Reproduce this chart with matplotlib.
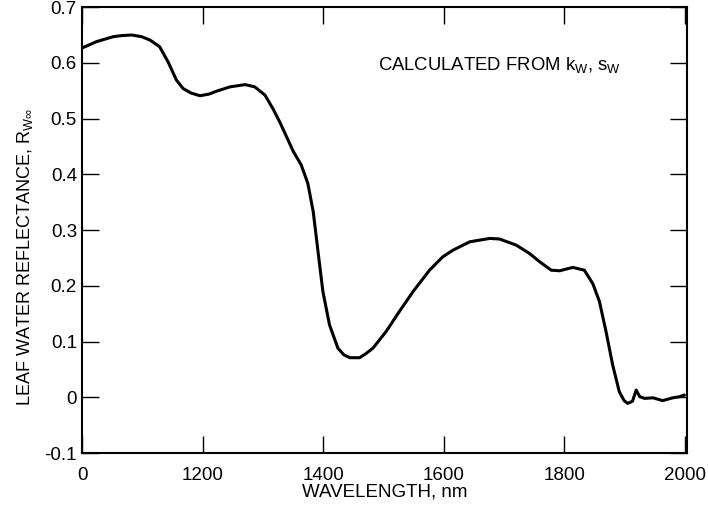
import matplotlib
matplotlib.use("Agg")
import matplotlib.pyplot as plt
from matplotlib.ticker import FixedLocator, FixedFormatter

wavelength = [1000, 1023, 1051, 1065, 1082, 1098, 1112, 1128, 1142, 1156,
              1167, 1180, 1195, 1210, 1222, 1245, 1270, 1286, 1303, 1316,
              1327, 1350, 1363, 1374, 1383, 1391, 1399, 1410, 1424, 1434,
              1444, 1460, 1470, 1482, 1504, 1526, 1549, 1576, 1598, 1615,
              1643, 1676, 1692, 1720, 1742, 1759, 1778, 1792, 1814, 1833,
              1847, 1858, 1869, 1880, 1891, 1899, 1905, 1913, 1919, 1925,
              1933, 1947, 1963, 1980, 1991, 1999]
reflectance = [0.627, 0.638, 0.647, 0.649, 0.650, 0.647, 0.641, 0.629, 0.602, 0.569,
               0.554, 0.546, 0.541, 0.544, 0.549, 0.557, 0.561, 0.557, 0.542, 0.518,
               0.495, 0.441, 0.417, 0.384, 0.333, 0.261, 0.190, 0.130, 0.088, 0.076,
               0.071, 0.071, 0.078, 0.088, 0.118, 0.154, 0.190, 0.228, 0.252, 0.264,
               0.279, 0.285, 0.284, 0.273, 0.258, 0.243, 0.228, 0.227, 0.233, 0.228,
               0.204, 0.172, 0.118, 0.058, 0.010, -0.006, -0.011, -0.007, 0.013, 0.001,
               -0.002, -0.001, -0.006, -0.001, 0.001, 0.004]

x_ticks = [1000, 1200, 1400, 1600, 1800, 2000]
x_labels = ['0', '1200', '1400', '1600', '1800', '2000']
y_ticks = [-0.1, 0, 0.1, 0.2, 0.3, 0.4, 0.5, 0.6, 0.7]
y_labels = ['-0.1', '0', '0.1', '0.2', '0.3', '0.4', '0.5', '0.6', '0.7']

fs = 13.5
plt.rcParams['font.family'] = ['Liberation Sans', 'DejaVu Sans']
plt.rcParams['mathtext.fontset'] = 'custom'
plt.rcParams['mathtext.rm'] = 'Liberation Sans'
plt.rcParams['mathtext.it'] = 'Liberation Sans'

fig = plt.figure(figsize=(7.08, 5.11), dpi=100)
ax = fig.add_axes([0.1165, 0.1135, 0.8535, 0.8725])

ax.plot(wavelength, reflectance, color='black', linewidth=2.2,
        solid_capstyle='round', solid_joinstyle='round')

ax.set_xlim(1000, 2003)
ax.set_ylim(-0.1, 0.7)
ax.xaxis.set_major_locator(FixedLocator(x_ticks))
ax.xaxis.set_major_formatter(FixedFormatter(x_labels))
ax.yaxis.set_major_locator(FixedLocator(y_ticks))
ax.yaxis.set_major_formatter(FixedFormatter(y_labels))
ax.tick_params(axis='both', which='major', direction='in', length=12, width=1,
               top=True, right=True, labelsize=fs)
ax.tick_params(axis='x', pad=10)
ax.tick_params(axis='y', pad=4)
for s in ax.spines.values():
    s.set_linewidth(1.5)

ax.set_xlabel('WAVELENGTH, nm', fontsize=fs, labelpad=0)
ax.set_ylabel(r'LEAF WATER REFLECTANCE, R$_{\mathrm{W\infty}}$', fontsize=13)
ax.yaxis.set_label_coords(-0.078, 0.44)
ax.text(1490, 0.588, r'CALCULATED FROM k$_{\mathrm{W}}$, s$_{\mathrm{W}}$', fontsize=13.3,
        ha='left', va='baseline')

fig.savefig('out.png', dpi=100)
plt.close(fig)
